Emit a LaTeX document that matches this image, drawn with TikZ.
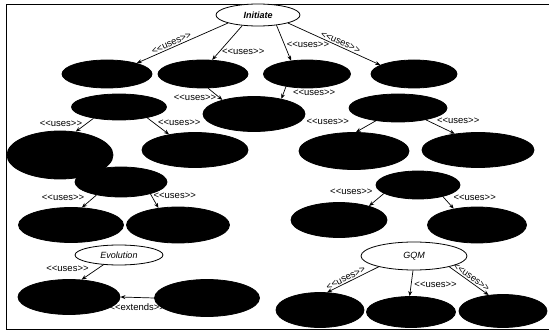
\documentclass[tikz,border=0pt]{standalone}
\usepackage{fontspec}
\setmainfont{Liberation Sans}
\newfontfamily\labfont[Ligatures=TeXOff]{Liberation Sans}
\usetikzlibrary{shapes.geometric,arrows.meta}
\newcommand{\ulab}{<<uses>>}
\newcommand{\elab}{<<extends>>}
\tikzset{
  uc/.style={ellipse, draw=black, fill=black, inner sep=0pt, line width=0.8pt},
  act/.style={ellipse, draw=black, fill=white, inner sep=0pt, line width=0.8pt, font=\fontsize{9}{10}\selectfont\itshape},
  rel/.style={draw=black, line width=0.7pt, -{Stealth[length=5pt,width=4pt]}},
  lab/.style={font=\labfont\fontsize{9.5}{10}\selectfont, inner sep=1pt}
}
\begin{document}
\begin{tikzpicture}[x=1pt,y=-1pt]
\useasboundingbox (0,0) rectangle (549,334);
\draw[line width=1pt] (549,5) -- (6,5) -- (6,329) -- (549,329);
% actors / top ellipses
\node[act, minimum width=84pt, minimum height=22pt] (Init) at (258,15) {\bfseries Initiate};
\node[act, minimum width=88pt, minimum height=20pt] (Evo) at (119,255) {Evolution};
\node[act, minimum width=106pt, minimum height=28pt] (GQM) at (414,256) {GQM};
% use cases
\node[uc, minimum width=90pt, minimum height=28pt] (A1) at (107,74) {};
\node[uc, minimum width=90pt, minimum height=28pt] (A2) at (203,74) {};
\node[uc, minimum width=87pt, minimum height=28pt] (A3) at (307,74) {};
\node[uc, minimum width=86pt, minimum height=28pt] (A4) at (414,74) {};
\node[uc, minimum width=95pt, minimum height=26pt] (B1) at (119,107) {};
\node[uc, minimum width=102pt, minimum height=35pt] (B2) at (254,114) {};
\node[uc, minimum width=98pt, minimum height=28pt] (B3) at (398,108) {};
\node[uc, minimum width=106pt, minimum height=48pt] (C1) at (60,155) {};
\node[uc, minimum width=106pt, minimum height=35pt] (C2) at (195,150) {};
\node[uc, minimum width=110pt, minimum height=37pt] (C3) at (354,151) {};
\node[uc, minimum width=112pt, minimum height=35pt] (C4) at (478,150) {};
\node[uc, minimum width=92pt, minimum height=30pt] (D1) at (121,182) {};
\node[uc, minimum width=84pt, minimum height=28pt] (D2) at (418,185) {};
\node[uc, minimum width=105pt, minimum height=35pt] (E1) at (71,225) {};
\node[uc, minimum width=103pt, minimum height=36pt] (E2) at (178,225) {};
\node[uc, minimum width=96pt, minimum height=35pt] (E3) at (339,220) {};
\node[uc, minimum width=99pt, minimum height=36pt] (E4) at (477,225) {};
\node[uc, minimum width=102pt, minimum height=35pt] (F1) at (69,297) {};
\node[uc, minimum width=105pt, minimum height=37pt] (F2) at (207,298) {};
\node[uc, minimum width=88pt, minimum height=35pt] (G1) at (320,310) {};
\node[uc, minimum width=89pt, minimum height=31pt] (G2) at (411,312) {};
\node[uc, minimum width=88pt, minimum height=33pt] (G3) at (503,311) {};
% relations
\draw[rel] (Init.195) -- node[lab, pos=.6, sloped, above] {\ulab} (A1.20);
\draw[rel] (Init.214) -- node[lab, pos=.75, anchor=west, xshift=1pt] {\ulab} (A2.57);
\draw[rel] (Init.331) -- node[lab, pos=.55, anchor=west, xshift=1pt] {\ulab} (A3.140);
\draw[rel] (Init.345) -- node[lab, pos=.55, sloped, above] {\ulab} (A4.165);
\draw[rel] (A2.290) -- node[lab, pos=.8, anchor=east, xshift=-2pt] {\ulab} (B2.156);
\draw[rel] (A3.211) -- node[lab, pos=.5, anchor=west, xshift=8pt] {\ulab} (B2.29);
\draw[rel] (B1.204) -- node[lab, pos=.4, anchor=east, xshift=-3pt] {\ulab} (C1.56);
\draw[rel] (B1.339) -- node[lab, pos=.3, anchor=west, xshift=3pt] {\ulab} (C2.149);
\draw[rel] (B3.210) -- node[lab, pos=.1, xshift=-46pt] {\ulab} (C3.84);
\draw[rel] (B3.337) -- node[lab, pos=.2, anchor=west, xshift=4pt, yshift=2pt] {\ulab} (C4.145);
\draw[rel] (D1.208) -- node[lab, pos=.2, anchor=east, xshift=-8pt] {\ulab} (E1.58);
\draw[rel] (D1.338) -- node[lab, pos=.1, anchor=west, xshift=1pt] {\ulab} (E2.139);
\draw[rel] (D2.194) -- node[lab, pos=0, anchor=east, xshift=-10pt, yshift=2pt] {\ulab} (E3.25);
\draw[rel] (D2.335) -- node[lab, pos=.3, anchor=west, xshift=6pt, yshift=2pt] {\ulab} (E4.145);
\draw[rel] (Evo.212) -- node[lab, pos=.25, anchor=east, xshift=-8pt] {\ulab} (F1.54);
\draw[rel] (F2.180) -- node[lab, midway, below, yshift=-5pt] {\elab} (F1.0);
\draw[rel] (GQM.197) -- node[lab, pos=.6, sloped, above] {\ulab} (G1.68);
\draw[rel] (GQM.266) -- node[lab, pos=.55, anchor=west, xshift=2pt] {\ulab} (G2.95);
\draw[rel] (GQM.343) -- node[lab, pos=.5, sloped, above] {\ulab} (G3.132);
\end{tikzpicture}
\end{document}
